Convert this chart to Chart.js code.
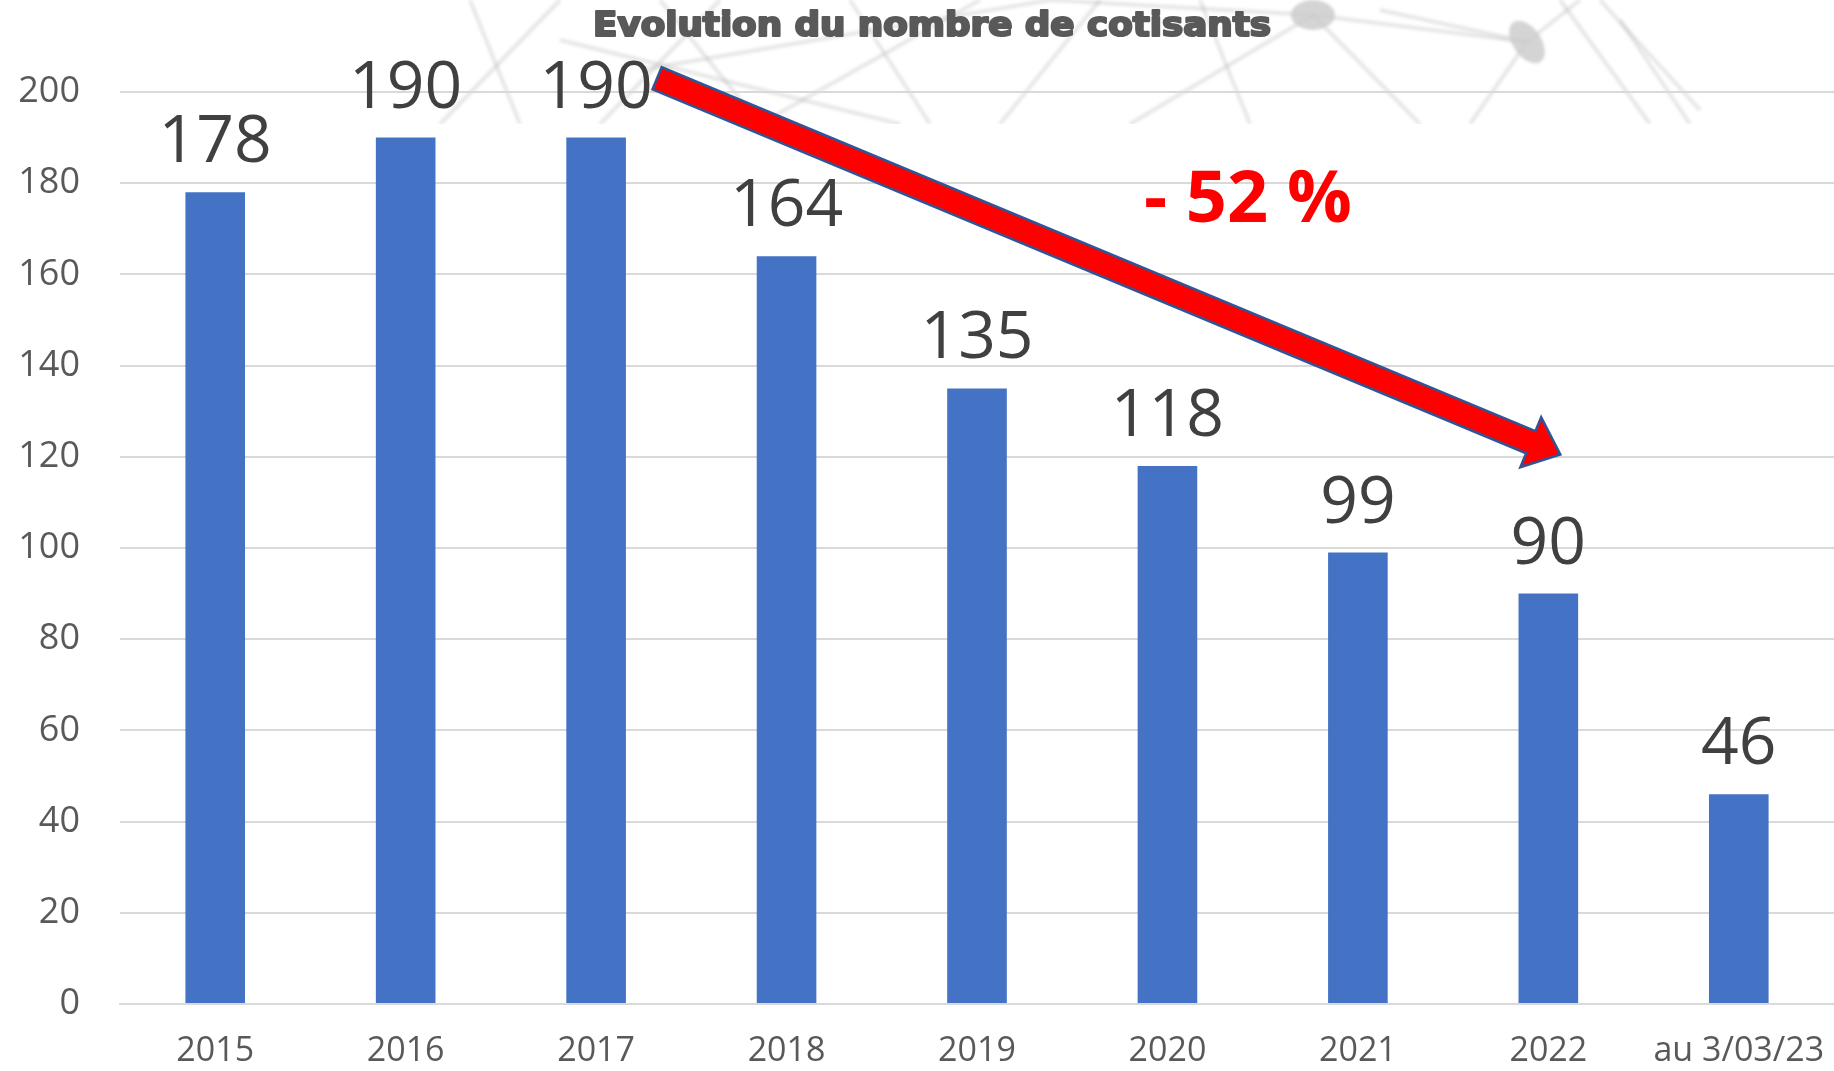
<!DOCTYPE html>
<html>
<head>
<meta charset="utf-8">
<script src="https://cdn.jsdelivr.net/npm/chart.js@4/dist/chart.umd.min.js"></script>
<style>
  html, body { margin: 0; padding: 0; background: #fff; }
  #wrap { width: 1834px; height: 1071px; position: relative; }
</style>
</head>
<body>
<div id="wrap"><canvas id="barChart"></canvas></div>
<script>
// données
const annees = ["2015", "2016", "2017", "2018", "2019", "2020", "2021", "2022", "au 3/03/23"]
const cotisants = [178, 190, 190, 164, 135, 118, 99, 90, 46]
const titre = "Evolution du nombre de cotisants"
const baisse = "- 52 %"
// flèche : de 2017 (index 2) à 2022 (index 7)
const flecheDebut = [2, 203]
const flecheFin = [7, 120.5]

const ctxBar = document.getElementById("barChart").getContext('2d')

// fond décoratif (réseau gris en haut)
const fondReseau = {
    id: 'fondReseau',
    beforeDraw(chart) {
        const c = chart.ctx
        c.save()
        c.fillStyle = '#fff'
        c.fillRect(0, 0, chart.width, chart.height)
        c.beginPath()
        c.rect(420, 0, 1300, 124)
        c.clip()
        c.filter = 'blur(1.5px)'
        c.strokeStyle = 'rgba(175,175,175,0.3)'
        c.lineWidth = 4
        const traits = [
            [440, 124, 560, 0], [520, 124, 470, 0], [600, 124, 720, 0], [560, 40, 900, 124],
            [660, 0, 760, 124], [760, 124, 980, 0], [850, 0, 930, 124], [1000, 124, 1100, 0],
            [1050, 0, 1313, 15], [1130, 124, 1313, 15], [1313, 15, 1420, 124], [1313, 15, 1527, 42],
            [1380, 10, 1527, 42], [1527, 42, 1470, 124], [1527, 42, 1580, 0], [1560, 0, 1650, 124],
            [1600, 0, 1700, 110], [1250, 124, 1200, 0], [640, 70, 1050, 0], [1620, 20, 1690, 124]
        ]
        for (const t of traits) {
            c.beginPath()
            c.moveTo(t[0], t[1])
            c.lineTo(t[2], t[3])
            c.stroke()
        }
        c.fillStyle = 'rgba(205,205,205,0.85)'
        c.beginPath()
        c.ellipse(1313, 15, 22, 15, 0, 0, Math.PI * 2)
        c.fill()
        c.beginPath()
        c.ellipse(1527, 42, 14, 24, -0.6, 0, Math.PI * 2)
        c.fill()
        c.restore()
    }
}

// titre (gras très épais)
const titrePlugin = {
    id: 'titrePlugin',
    afterDraw(chart) {
        const c = chart.ctx
        c.save()
        c.font = 'bold 33px "DejaVu Sans"'
        const w = c.measureText(titre).width
        c.translate(932, 36)
        c.scale(678 / w, 1)
        c.fillStyle = '#595959'
        c.strokeStyle = '#595959'
        c.lineWidth = 2.2
        c.lineJoin = 'round'
        c.textAlign = 'center'
        c.textBaseline = 'alphabetic'
        c.strokeText(titre, 0, 0)
        c.fillText(titre, 0, 0)
        c.restore()
    }
}

// valeurs au-dessus des barres
const etiquettes = {
    id: 'etiquettes',
    afterDatasetsDraw(chart) {
        const c = chart.ctx
        const meta = chart.getDatasetMeta(0)
        c.save()
        c.font = '66px "Open Sans"'
        c.fillStyle = '#404040'
        c.textAlign = 'center'
        c.textBaseline = 'alphabetic'
        meta.data.forEach((bar, i) => {
            c.fillText(String(cotisants[i]), bar.x, bar.y - 30)
        })
        c.restore()
    }
}

// flèche rouge + texte
const flechePlugin = {
    id: 'flechePlugin',
    afterDraw(chart) {
        const x = chart.scales.x, y = chart.scales.y
        const x0 = x.getPixelForValue(flecheDebut[0]) + 61, y0 = y.getPixelForValue(flecheDebut[1])
        const x1 = x.getPixelForValue(flecheFin[0]) + 12, y1 = y.getPixelForValue(flecheFin[1])
        const L = Math.hypot(x1 - x0, y1 - y0)
        const c = chart.ctx
        c.save()
        c.translate(x0, y0)
        c.rotate(Math.atan2(y1 - y0, x1 - x0))
        const hs = 12, hh = 27, hl = 32
        c.beginPath()
        c.moveTo(0, -hs)
        c.lineTo(L - hl, -hs)
        c.lineTo(L - hl, -hh)
        c.lineTo(L, 0)
        c.lineTo(L - hl, hh)
        c.lineTo(L - hl, hs)
        c.lineTo(0, hs)
        c.closePath()
        c.fillStyle = '#FF0000'
        c.fill()
        c.lineWidth = 2.5
        c.strokeStyle = '#2F5597'
        c.stroke()
        c.restore()

        c.save()
        c.font = 'bold 72px "Open Sans"'
        c.fillStyle = '#FF0000'
        c.textAlign = 'center'
        c.textBaseline = 'middle'
        c.fillText(baisse, x.getPixelForValue(6) - 110, y.getPixelForValue(176))
        c.restore()
    }
}

const dataBar = {
    labels: annees,
    datasets: [{
        data: cotisants,
        backgroundColor: '#4472C4',
        borderWidth: 0,
        barPercentage: 1,
        categoryPercentage: 0.313
    }]
}

const optionsBar = {
    responsive: true,
    maintainAspectRatio: false,
    animation: false,
    layout: { padding: { top: 92, right: 0, bottom: 0, left: 0 } },
    plugins: {
        legend: { display: false },
        tooltip: { enabled: false },
        title: { display: false }
    },
    scales: {
        x: {
            grid: { display: false, drawTicks: false },
            border: { color: '#d9d9d9', width: 2 },
            ticks: {
                font: { family: 'Open Sans', size: 34 },
                color: '#595959',
                padding: 27,
                maxRotation: 0,
                autoSkip: false
            },
            afterFit(scale) {
                scale.height = 67
                scale.paddingLeft = 0
                scale.paddingRight = 0
            }
        },
        y: {
            min: 0,
            max: 200,
            grid: { color: '#d9d9d9', lineWidth: 2, drawTicks: false },
            border: { display: false },
            ticks: {
                stepSize: 20,
                font: { family: 'Open Sans', size: 36 },
                color: '#595959',
                padding: 40
            },
            afterFit(scale) { scale.width = 120 }
        }
    }
}

const configBar = {
    type: 'bar',
    data: dataBar,
    options: optionsBar,
    plugins: [fondReseau, etiquettes, flechePlugin, titrePlugin]
}

const myChart = new Chart(ctxBar, configBar)
</script>
</body>
</html>
